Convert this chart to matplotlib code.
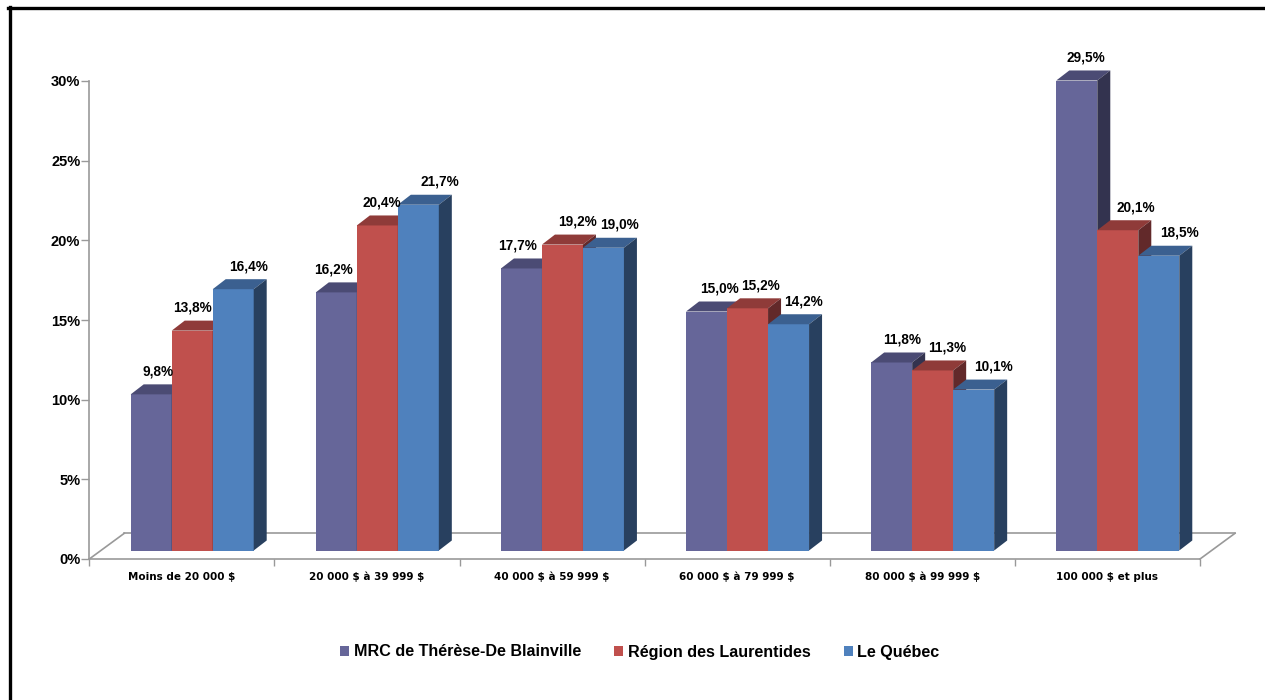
import matplotlib
matplotlib.use("Agg")
import matplotlib.pyplot as plt
from matplotlib.patches import Patch
from matplotlib.lines import Line2D
from matplotlib.ticker import FuncFormatter, FixedLocator

# ---------------- data ----------------
categories = ["Moins de 20 000 $", "20 000 $ à 39 999 $", "40 000 $ à 59 999 $",
              "60 000 $ à 79 999 $", "80 000 $ à 99 999 $", "100 000 $ et plus"]
series_names = ["MRC de Thérèse-De Blainville", "Région des Laurentides", "Le Québec"]
mrc = [9.8, 16.2, 17.7, 15.0, 11.8, 29.5]
laurentides = [13.8, 20.4, 19.2, 15.2, 11.3, 20.1]
quebec = [16.4, 21.7, 19.0, 14.2, 10.1, 18.5]
series_values = [mrc, laurentides, quebec]
y_ticks = [0, 5, 10, 15, 20, 25, 30]

# ---------------- style ----------------
front_cols = ["#666699", "#C0504D", "#4F81BD"]
top_cols = ["#4B4B74", "#8F3B39", "#3B6090"]
side_cols = ["#33334F", "#62292A", "#28405F"]
axis_col = "#999999"
# per-label horizontal nudges (pixels), as placed in the original chart
label_nudge = [[0, -9, -10, 6, 4, 3],
               [-6, -2, 9, 6, 8, 12],
               [9, 15, 10, 8, 13, 14]]

W, H = 1265, 700
fig = plt.figure(figsize=(W / 100, H / 100), dpi=100)
x0, x1, y0, y1 = 89.3, 1200.0, 559.0, 81.0
ax = fig.add_axes([x0 / W, (H - y0) / H, (x1 - x0) / W, (y0 - y1) / H])
ax.set_xlim(-0.5, len(categories) - 0.5)
ax.set_ylim(0, 30)

PX_X = (x1 - x0) / len(categories)
PX_Y = (y0 - y1) / 30.0

bar_w = 41.0 / PX_X
first_left = 41.4 / PX_X          # from category start to first bar front-left
base = 8.5 / PX_Y                 # bars stand on the middle of the floor
ddx, ddy = 13.0 / PX_X, 10.0 / PX_Y
fdx, fdy = 35.0 / PX_X, 25.7 / PX_Y   # floor depth

# floor
n = len(categories)
xl, xr = -0.5, n - 0.5
floor_kw = dict(color=axis_col, lw=1.2, zorder=1, clip_on=False)
ax.plot([xl, xl + fdx], [0, fdy], **floor_kw)
ax.plot([xl + fdx, xr + fdx], [fdy, fdy], **floor_kw)
ax.plot([xr, xr + fdx], [0, fdy], **floor_kw)

# bars
for j, vals in enumerate(series_values):
    lefts = [i - 0.5 + first_left + j * bar_w for i in range(n)]
    centers = [l + bar_w / 2 for l in lefts]
    ax.bar(centers, vals, width=bar_w, bottom=base, color=front_cols[j],
           linewidth=0, zorder=2 + j)
    for i, v in enumerate(vals):
        l, r = lefts[i], lefts[i] + bar_w
        t = base + v
        ax.fill([l, r, r + ddx, l + ddx], [t, t, t + ddy, t + ddy],
                color=top_cols[j], lw=0, zorder=2.5 + j, clip_on=False)
        ax.fill([r, r + ddx, r + ddx, r], [base, base + ddy, t + ddy, t],
                color=side_cols[j], lw=0, zorder=2.5 + j, clip_on=False)
        lab = f"{v:.1f}".replace(".", ",") + "%"
        ax.annotate(lab, xy=(centers[i] + ddx / 2, t + ddy),
                    xytext=(label_nudge[j][i], 13), textcoords="offset pixels",
                    ha="center", va="center", fontsize=9.8, fontweight="bold",
                    family="Liberation Sans", zorder=10, annotation_clip=False)

# axes styling
for s in ["top", "right"]:
    ax.spines[s].set_visible(False)
for s in ["left", "bottom"]:
    ax.spines[s].set_color(axis_col)
    ax.spines[s].set_linewidth(1.2)

ax.set_yticks(y_ticks)
ax.yaxis.set_major_formatter(FuncFormatter(lambda v, p: f"{v:.0f}%"))
ax.tick_params(axis="y", length=5.5, width=1.0, color=axis_col, pad=1,
               labelsize=10.5)
for t in ax.get_yticklabels():
    t.set_fontweight("bold")
    t.set_family("Liberation Sans")

ax.xaxis.set_major_locator(FixedLocator([i - 0.5 for i in range(n + 1)]))
ax.xaxis.set_major_formatter(FuncFormatter(lambda v, p: ""))
ax.xaxis.set_minor_locator(FixedLocator(list(range(n))))
ax.set_xticklabels([c.replace("$", r"\$") for c in categories], minor=True)
ax.tick_params(axis="x", which="major", length=5, width=1.0, color=axis_col)
ax.tick_params(axis="x", which="minor", length=0, pad=9, labelsize=7.5)
for t in ax.get_xticklabels(minor=True):
    t.set_fontweight("bold")
    t.set_family("DejaVu Sans")

# legend
handles = [Patch(facecolor=c, edgecolor="none") for c in front_cols]
fig.legend(handles, series_names, ncol=3, loc="center",
           bbox_to_anchor=(640 / W, (H - 652) / H), frameon=False,
           handlelength=0.55, handleheight=0.55, handletextpad=0.3,
           columnspacing=2.05,
           prop=dict(family="Liberation Sans", weight="bold", size=11.6))

# outer frame (top and left)
fig.add_artist(Line2D([8 / W, 1.0], [1 - 8.3 / H, 1 - 8.3 / H],
                      color="black", lw=2.4, transform=fig.transFigure))
fig.add_artist(Line2D([9.5 / W, 9.5 / W], [0, 1 - 7 / H],
                      color="black", lw=2.4, transform=fig.transFigure))

fig.savefig("out.png", dpi=100)
